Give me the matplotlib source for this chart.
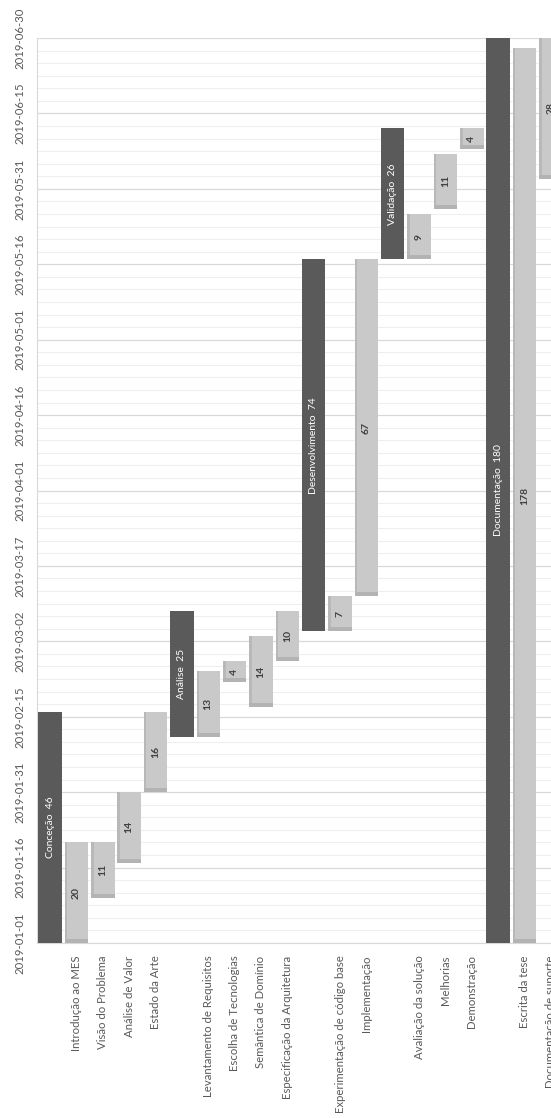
import numpy as np
import pandas as pd
import matplotlib
matplotlib.use("Agg")
import matplotlib.pyplot as plt
import matplotlib.dates as mdates

# --- data -----------------------------------------------------------------
tasks = [
    "Conceção", "Introdução ao MES", "Visão do Problema", "Análise de Valor",
    "Estado da Arte", "Análise", "Levantamento de Requisitos",
    "Escolha de Tecnologias", "Semântica de Domínio",
    "Especificação da Arquitetura", "Desenvolvimento",
    "Experimentação de código base", "Implementação", "Validação",
    "Avaliação da solução", "Melhorias", "Demonstração", "Documentação",
    "Escrita da tese", "Documentação de suporte",
]
is_phase = [True, False, False, False, False, True, False, False, False, False,
            True, False, False, True, False, False, False, True, False, False]
starts = [
    "2019-01-01", "2019-01-01", "2019-01-10", "2019-01-17", "2019-01-31",
    "2019-02-11", "2019-02-11", "2019-02-22", "2019-02-17", "2019-02-26",
    "2019-03-04", "2019-03-04", "2019-03-11", "2019-05-17", "2019-05-17",
    "2019-05-27", "2019-06-08", "2019-01-01", "2019-01-01", "2019-06-02",
]
durations = [46, 20, 11, 14, 16, 25, 13, 4, 14, 10, 74, 7, 67, 26, 9, 11, 4,
             180, 178, 28]
date_ticks = pd.date_range("2019-01-01", "2019-06-30", freq="15D")

DARK = "#5a5a5a"
LIGHT = "#c9c9c9"
TXT = "#595959"

plt.rcParams["font.family"] = ["Lato", "DejaVu Sans"]

W, H = 551, 1118
fig = plt.figure(figsize=(W / 100, H / 100), dpi=100)
ax = fig.add_axes([37 / W, (H - 943) / H, 527 / W, 905 / H])

x = np.arange(len(tasks))
bottoms = mdates.date2num(pd.to_datetime(starts).to_pydatetime())
dur = np.array(durations, dtype=float)
phase = np.array(is_phase)

ax.bar(x[phase], dur[phase], bottom=bottoms[phase], width=0.89,
       color=DARK, zorder=3)
ax.bar(x[~phase], dur[~phase], bottom=bottoms[~phase], width=0.89,
       color=LIGHT, zorder=3)
# soft shading on the light bars (left edge and start edge)
ax.bar(x[~phase] - 0.445 + 0.05, dur[~phase], bottom=bottoms[~phase],
       width=0.1, color="#b8b8b8", zorder=4)
ax.bar(x[~phase], np.minimum(0.8, dur[~phase]), bottom=bottoms[~phase],
       width=0.89, color="#b3b3b3", zorder=4)

for i in range(len(tasks)):
    yc = bottoms[i] + durations[i] / 2
    if is_phase[i]:
        ax.text(x[i], yc, f"{tasks[i]}  {durations[i]}", rotation=90,
                ha="center", va="center", color="white", fontsize=7.5,
                zorder=5)
    else:
        ax.text(x[i], yc, str(durations[i]), rotation=90, ha="center",
                va="center", color="#404040", fontsize=7.5,
                fontweight="bold", zorder=5)

ax.set_xlim(-0.5, len(tasks) - 0.5)
ax.set_xticks(x)
ax.set_xticklabels(["" if p else t for t, p in zip(tasks, is_phase)],
                   rotation=90, fontsize=8.2, color=TXT)

d0 = mdates.date2num(date_ticks[0].to_pydatetime())
d1 = mdates.date2num(date_ticks[-1].to_pydatetime())
ax.set_ylim(d0, d1)
ax.set_yticks(mdates.date2num(date_ticks.to_pydatetime()))
ax.set_yticklabels([d.strftime("%Y-%m-%d") for d in date_ticks],
                   rotation=90, va="center", fontsize=8.2, color=TXT)
ax.set_yticks(np.arange(d0, d1, 2.5), minor=True)

ax.tick_params(axis="both", which="both", length=0)
ax.tick_params(axis="x", pad=9)
ax.tick_params(axis="y", pad=8)
ax.grid(axis="y", which="major", color="#d9d9d9", linewidth=0.9, zorder=0)
ax.grid(axis="y", which="minor", color="#efefef", linewidth=0.8, zorder=0)
for side in ["top", "right"]:
    ax.spines[side].set_visible(False)
for side in ["left", "bottom"]:
    ax.spines[side].set_color("#d9d9d9")

fig.savefig("out.png", dpi=100)
